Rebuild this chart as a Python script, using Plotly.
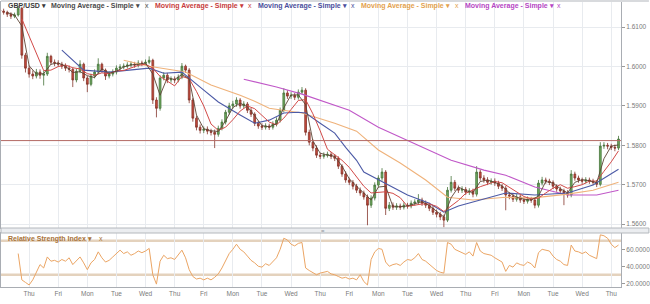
import plotly.graph_objects as go

# ---------------- data ----------------
day_labels = ["Wed", "Thu", "Fri", "Mon", "Tue", "Wed", "Thu", "Fri", "Mon", "Tue", "Wed",
              "Thu", "Fri", "Mon", "Tue", "Wed", "Thu", "Fri", "Mon", "Tue", "Wed", "Thu"]
bars_per_day = 8  # 3-hour candles

first_open = 1.6143
closes = [
    1.6141, 1.6138, 1.6133, 1.6128, 1.6131, 1.6148, 1.6029, 1.5996,
    1.5981, 1.5976, 1.5986, 1.5978, 1.5981, 1.6026, 1.6011, 1.6009,
    1.6006, 1.6001, 1.5996, 1.5993, 1.5966, 1.5988, 1.6006, 1.5971,
    1.5955, 1.5976, 1.5986, 1.6006, 1.5991, 1.5976, 1.5981, 1.5986,
    1.5996, 1.5999, 1.6001, 1.6004, 1.6006, 1.6004, 1.6009, 1.6008,
    1.6011, 1.6016, 1.5915, 1.5894, 1.5971, 1.5978, 1.5966, 1.5968,
    1.5966, 1.5973, 1.6001, 1.5991, 1.5915, 1.5869, 1.5846, 1.5838,
    1.5841, 1.5836, 1.5833, 1.5828, 1.5843, 1.5859, 1.5884, 1.5900,
    1.5905, 1.5915, 1.5900, 1.5905, 1.5889, 1.5879, 1.5856, 1.5849,
    1.5846, 1.5849, 1.5846, 1.5854, 1.5864, 1.5889, 1.5933, 1.5925,
    1.5927, 1.5922, 1.5935, 1.5940, 1.5833, 1.5808, 1.5793, 1.5775,
    1.5772, 1.5775, 1.5777, 1.5772, 1.5767, 1.5747, 1.5727, 1.5712,
    1.5706, 1.5696, 1.5686, 1.5679, 1.5669, 1.5648, 1.5666, 1.5699,
    1.5717, 1.5732, 1.5640, 1.5648, 1.5643, 1.5646, 1.5643, 1.5648,
    1.5646, 1.5653, 1.5656, 1.5661, 1.5653, 1.5648, 1.5640, 1.5630,
    1.5625, 1.5618, 1.5610, 1.5686, 1.5706, 1.5691, 1.5686, 1.5688,
    1.5681, 1.5684, 1.5676, 1.5732, 1.5717, 1.5712, 1.5706, 1.5709,
    1.5704, 1.5696, 1.5691, 1.5674, 1.5671, 1.5663, 1.5669, 1.5661,
    1.5658, 1.5663, 1.5661, 1.5648, 1.5704, 1.5712, 1.5709, 1.5706,
    1.5696, 1.5689, 1.5684, 1.5679, 1.5674, 1.5727, 1.5717, 1.5712,
    1.5709, 1.5712, 1.5709, 1.5706, 1.5701, 1.5798, 1.5800, 1.5798,
    1.5795, 1.5793, 1.5816,
]
highs = [
    1.6150, 1.6147, 1.6142, 1.6138, 1.6137, 1.6155, 1.6152, 1.6035,
    1.6003, 1.5990, 1.5994, 1.5993, 1.5990, 1.6035, 1.6030, 1.6018,
    1.6016, 1.6012, 1.6008, 1.6003, 1.5998, 1.5994, 1.6016, 1.6010,
    1.5976, 1.5982, 1.5993, 1.6021, 1.6010, 1.5995, 1.5988, 1.5993,
    1.6003, 1.6006, 1.6008, 1.6011, 1.6013, 1.6012, 1.6016, 1.6015,
    1.6018, 1.6026, 1.6020, 1.5922, 1.5978, 1.5986, 1.5984, 1.5975,
    1.5975, 1.5980, 1.6009, 1.6005, 1.5996, 1.5920, 1.5875, 1.5853,
    1.5848, 1.5848, 1.5842, 1.5840, 1.5850, 1.5866, 1.5890, 1.5908,
    1.5913, 1.5922, 1.5920, 1.5912, 1.5910, 1.5895, 1.5884, 1.5862,
    1.5856, 1.5856, 1.5855, 1.5861, 1.5871, 1.5896, 1.5945, 1.5940,
    1.5935, 1.5933, 1.5942, 1.5948, 1.5945, 1.5840, 1.5815, 1.5800,
    1.5781, 1.5782, 1.5784, 1.5783, 1.5778, 1.5772, 1.5752, 1.5734,
    1.5718, 1.5712, 1.5702, 1.5693, 1.5685, 1.5675, 1.5673, 1.5706,
    1.5724, 1.5742, 1.5737, 1.5656, 1.5655, 1.5653, 1.5652, 1.5655,
    1.5654, 1.5660, 1.5663, 1.5676, 1.5667, 1.5660, 1.5654, 1.5646,
    1.5637, 1.5631, 1.5624, 1.5694, 1.5722, 1.5712, 1.5698, 1.5696,
    1.5694, 1.5691, 1.5690, 1.5747, 1.5738, 1.5724, 1.5719, 1.5716,
    1.5716, 1.5710, 1.5702, 1.5697, 1.5681, 1.5677, 1.5676, 1.5675,
    1.5667, 1.5670, 1.5669, 1.5666, 1.5712, 1.5720, 1.5718, 1.5715,
    1.5711, 1.5701, 1.5695, 1.5690, 1.5686, 1.5737, 1.5733, 1.5723,
    1.5718, 1.5719, 1.5718, 1.5715, 1.5712, 1.5808, 1.5808, 1.5806,
    1.5804, 1.5802, 1.5824,
]
lows = [
    1.6135, 1.6132, 1.6126, 1.6121, 1.6123, 1.6127, 1.6020, 1.5985,
    1.5972, 1.5968, 1.5970, 1.5969, 1.5952, 1.5976, 1.6004, 1.6001,
    1.5999, 1.5994, 1.5989, 1.5985, 1.5948, 1.5960, 1.5983, 1.5963,
    1.5935, 1.5950, 1.5970, 1.5981, 1.5985, 1.5966, 1.5970, 1.5975,
    1.5980, 1.5990, 1.5993, 1.5995, 1.5998, 1.5997, 1.5998, 1.6001,
    1.6002, 1.6006, 1.5905, 1.5871, 1.5888, 1.5965, 1.5958, 1.5959,
    1.5958, 1.5960, 1.5968, 1.5984, 1.5907, 1.5860, 1.5838, 1.5830,
    1.5831, 1.5828, 1.5825, 1.5793, 1.5822, 1.5838, 1.5853, 1.5878,
    1.5893, 1.5898, 1.5893, 1.5894, 1.5882, 1.5872, 1.5849, 1.5842,
    1.5839, 1.5840, 1.5839, 1.5840, 1.5848, 1.5858, 1.5884, 1.5918,
    1.5918, 1.5915, 1.5916, 1.5930, 1.5825, 1.5800, 1.5785, 1.5768,
    1.5765, 1.5766, 1.5769, 1.5765, 1.5760, 1.5740, 1.5720, 1.5705,
    1.5699, 1.5688, 1.5679, 1.5672, 1.5662, 1.5597, 1.5641, 1.5660,
    1.5693, 1.5710, 1.5623, 1.5633, 1.5636, 1.5636, 1.5636, 1.5637,
    1.5639, 1.5640, 1.5647, 1.5650, 1.5646, 1.5641, 1.5633, 1.5623,
    1.5617, 1.5610, 1.5592, 1.5605, 1.5680, 1.5684, 1.5679, 1.5679,
    1.5674, 1.5674, 1.5668, 1.5670, 1.5710, 1.5705, 1.5699, 1.5700,
    1.5697, 1.5689, 1.5684, 1.5635, 1.5663, 1.5656, 1.5657, 1.5654,
    1.5651, 1.5652, 1.5654, 1.5640, 1.5642, 1.5698, 1.5702, 1.5699,
    1.5689, 1.5682, 1.5677, 1.5648, 1.5667, 1.5668, 1.5710, 1.5705,
    1.5702, 1.5703, 1.5702, 1.5699, 1.5694, 1.5696, 1.5791, 1.5790,
    1.5788, 1.5785, 1.5788,
]

# fast simple moving average (dark), read every 2nd candle from candle 2
ma_fast_start = 2
ma_fast = [
    1.6137, 1.6131, 1.6103, 1.6002, 1.5981, 1.5982, 1.6006, 1.6009, 1.6001, 1.5985,
    1.5987, 1.5977, 1.5972, 1.5994, 1.5983, 1.5988, 1.5999, 1.6004, 1.6006, 1.6009,
    1.5981, 1.5927, 1.5972, 1.5967, 1.5980, 1.5969, 1.5877, 1.5842, 1.5837, 1.5835,
    1.5862, 1.5896, 1.5907, 1.5898, 1.5875, 1.5850, 1.5847, 1.5855, 1.5895, 1.5928,
    1.5928, 1.5903, 1.5811, 1.5780, 1.5775, 1.5772, 1.5747, 1.5715, 1.5696, 1.5678,
    1.5661, 1.5694, 1.5696, 1.5644, 1.5644, 1.5646, 1.5652, 1.5657, 1.5647, 1.5632,
    1.5618, 1.5667, 1.5694, 1.5685, 1.5680, 1.5708, 1.5712, 1.5706, 1.5697, 1.5679,
    1.5668, 1.5663, 1.5661, 1.5671, 1.5708, 1.5704, 1.5690, 1.5679, 1.5706, 1.5713,
    1.5710, 1.5705, 1.5766, 1.5798, 1.5801,
]
# red simple moving average, read every 2nd candle from candle 6
ma_red_start = 6
ma_red = [
    1.6121, 1.6078, 1.6035, 1.5990, 1.5991, 1.6000, 1.6004, 1.5997, 1.5994, 1.5982,
    1.5978, 1.5984, 1.5982, 1.5989, 1.5990, 1.5996, 1.6003, 1.6006, 1.5996, 1.5975,
    1.5964, 1.5951, 1.5975, 1.5969, 1.5937, 1.5900, 1.5854, 1.5838, 1.5846, 1.5865,
    1.5887, 1.5900, 1.5893, 1.5875, 1.5859, 1.5852, 1.5869, 1.5891, 1.5914, 1.5916,
    1.5880, 1.5837, 1.5790, 1.5776, 1.5762, 1.5744, 1.5720, 1.5696, 1.5679, 1.5681,
    1.5682, 1.5678, 1.5667, 1.5645, 1.5648, 1.5651, 1.5651, 1.5645, 1.5632, 1.5645,
    1.5660, 1.5678, 1.5687, 1.5695, 1.5701, 1.5708, 1.5705, 1.5693, 1.5681, 1.5670,
    1.5664, 1.5666, 1.5679, 1.5691, 1.5700, 1.5691, 1.5695, 1.5700, 1.5709, 1.5709,
    1.5734, 1.5758, 1.5786,
]
# slower moving averages, read at candle indices
blue_bars = [17, 23, 30, 41, 45, 50, 55, 60, 66, 70, 74, 78, 82, 84, 88, 92, 95, 98, 100,
             104, 112, 118, 122, 126, 132, 139, 147, 156, 163, 170]
blue_vals = [1.6042, 1.5991, 1.5986, 1.5996, 1.5983, 1.5986, 1.5948, 1.5910, 1.5877, 1.5856,
             1.5864, 1.5882, 1.5884, 1.5882, 1.5856, 1.5831, 1.5795, 1.5762, 1.5732, 1.5712,
             1.5674, 1.5653, 1.5630, 1.5646, 1.5661, 1.5679, 1.5674, 1.5679, 1.5699, 1.5739]
orange_bars = [34, 41, 51, 58, 66, 70, 74, 78, 83, 92, 98, 104, 110, 117, 123, 130, 139,
               146, 156, 163, 170]
orange_vals = [1.6016, 1.6001, 1.5986, 1.5953, 1.5927, 1.5912, 1.5894, 1.5889, 1.5882, 1.5856,
               1.5836, 1.5788, 1.5755, 1.5712, 1.5668, 1.5661, 1.5668, 1.5666, 1.5676, 1.5686,
               1.5706]
magenta_bars = [67, 76, 83, 96, 104, 114, 124, 133, 139, 147, 156, 164, 170]
magenta_vals = [1.5968, 1.5948, 1.5930, 1.5889, 1.5846, 1.5805, 1.5762, 1.5737, 1.5724,
                1.5694, 1.5674, 1.5674, 1.5686]

last_price = 1.5812

# RSI, one reading per candle from candle 5
rsi_start = 5
rsi = [
    55, 24, 21, 18, 24, 33, 42, 38, 51, 46, 47, 45, 48, 46, 50, 42, 47, 51, 44, 36,
    44, 48, 57, 50, 45, 47, 51, 55, 59, 55, 57, 53, 55, 58, 56, 58, 61, 30, 19, 46,
    53, 49, 50, 48, 53, 59, 50, 36, 28, 25, 26, 24, 26, 24, 27, 31, 38, 47, 55, 60,
    66, 60, 57, 52, 47, 44, 40, 39, 43, 41, 45, 50, 60, 73, 71, 66, 64, 67, 68, 38,
    35, 32, 30, 32, 33, 34, 31, 30, 28, 26, 27, 25, 26, 24, 30, 22, 18, 48, 57, 61,
    60, 45, 40, 42, 43, 41, 45, 48, 47, 50, 55, 48, 46, 42, 38, 35, 33, 32, 68, 66,
    60, 58, 56, 54, 57, 52, 68, 58, 55, 54, 53, 50, 47, 45, 34, 41, 39, 44, 42, 41,
    45, 43, 38, 56, 60, 59, 58, 52, 48, 46, 42, 41, 65, 58, 57, 55, 57, 53, 51, 49,
    77, 76, 73, 66, 62, 65,
]
rsi_levels = [70, 30]
price_ticks = [1.56, 1.57, 1.58, 1.59, 1.60, 1.61]
rsi_ticks = [20, 40, 60]

headers = [
    ("GBP/USD \u25BE", "#3a3a3a"),
    ("Moving Average - Simple \u25BE", "#4a4a4a"),
    ("Moving Average - Simple \u25BE", "#c83c3c"),
    ("Moving Average - Simple \u25BE", "#4a4e9c"),
    ("Moving Average - Simple \u25BE", "#e3a24e"),
    ("Moving Average - Simple \u25BE", "#b646c4"),
]

# ---------------- figure ----------------
W, H = 650, 304
ML, MR, MT, MB = 0, 28, 2, 17
PW, PH = W - ML - MR, H - MT - MB


def px_x(p):
    return (p - ML) / PW


def px_y(p):
    return 1 - (p - MT) / PH


def to_day(bars):
    return [b / bars_per_day for b in bars]


n = len(closes)
bar_idx = list(range(n))
opens = [first_open] + closes[:-1]

fig = go.Figure()

fig.add_trace(go.Candlestick(
    x=to_day(bar_idx), open=opens, high=highs, low=lows, close=closes,
    increasing=dict(line=dict(color="#46733b", width=0.8), fillcolor="#6eab5e"),
    decreasing=dict(line=dict(color="#84352b", width=0.8), fillcolor="#c94a3c"),
    whiskerwidth=0, showlegend=False, hoverinfo="skip", xaxis="x", yaxis="y"))

fig.add_trace(go.Scatter(
    x=to_day(magenta_bars), y=magenta_vals, mode="lines",
    line=dict(color="#c058c8", width=1.1), showlegend=False, hoverinfo="skip"))
fig.add_trace(go.Scatter(
    x=to_day(orange_bars), y=orange_vals, mode="lines",
    line=dict(color="#efb27a", width=1.1), showlegend=False, hoverinfo="skip"))
fig.add_trace(go.Scatter(
    x=to_day(blue_bars), y=blue_vals, mode="lines",
    line=dict(color="#4c5aa6", width=1.1), showlegend=False, hoverinfo="skip"))
fig.add_trace(go.Scatter(
    x=to_day(range(ma_red_start, ma_red_start + 2 * len(ma_red), 2)), y=ma_red,
    mode="lines", line=dict(color="#d24a48", width=1), showlegend=False, hoverinfo="skip"))
fig.add_trace(go.Scatter(
    x=to_day(range(ma_fast_start, ma_fast_start + 2 * len(ma_fast), 2)), y=ma_fast,
    mode="lines", line=dict(color="#5c4434", width=0.9), showlegend=False, hoverinfo="skip"))

fig.add_trace(go.Scatter(
    x=to_day(range(rsi_start, rsi_start + len(rsi))), y=rsi, mode="lines",
    line=dict(color="#eba564", width=1), showlegend=False, hoverinfo="skip",
    xaxis="x2", yaxis="y2"))

day_px = 29.2
xr = [(0 + 1) / day_px, (PW + 1) / day_px]

tick_font = dict(family="Liberation Sans, Arial, sans-serif", size=6.5, color="#7a7a7a")
grid = "#e8ebef"

common_x = dict(range=xr, tickvals=list(range(len(day_labels))), showgrid=True,
                gridcolor=grid, gridwidth=1, zeroline=False, showline=True,
                linecolor="#a9adb3", mirror=True, ticks="", fixedrange=True)

fig.update_layout(
    width=W, height=H, margin=dict(l=ML, r=MR, t=MT, b=MB),
    paper_bgcolor="#ffffff", plot_bgcolor="#ffffff",
    font=tick_font, hovermode=False,
    xaxis=dict(domain=[0, 1], anchor="y", showticklabels=False,
               rangeslider=dict(visible=False), **common_x),
    xaxis2=dict(domain=[0, 1], anchor="y2", showticklabels=True,
                ticktext=day_labels, tickfont=tick_font, ticklabelstandoff=0, **common_x),
    yaxis=dict(domain=[px_y(228), 1], anchor="x", side="right",
               range=[1.5590, 1.6164], tickvals=price_ticks, tickformat=".4f",
               ticks="outside", ticklen=3, tickcolor="#9a9a9a", tickfont=tick_font,
               showgrid=True, gridcolor=grid, zeroline=False, showline=True,
               linecolor="#a9adb3", mirror=True, fixedrange=True),
    yaxis2=dict(domain=[0, px_y(233)], anchor="x2", side="right",
                range=[15.6, 79.2], tickvals=rsi_ticks, tickformat=".4f",
                ticks="outside", ticklen=3, tickcolor="#9a9a9a", tickfont=tick_font,
                showgrid=False, zeroline=False, showline=True,
                linecolor="#a9adb3", mirror=True, fixedrange=True),
)

shapes = []
# current price line
shapes.append(dict(type="line", xref="paper", yref="y", x0=0, x1=1,
                   y0=last_price, y1=last_price, line=dict(color="#b46a64", width=1)))
# RSI overbought / oversold bands
for lv in rsi_levels:
    shapes.append(dict(type="line", xref="paper", yref="y2", x0=0, x1=1,
                       y0=lv, y1=lv, line=dict(color="#e4d2bd", width=2.5), layer="below"))
# panel splitter
shapes.append(dict(type="rect", xref="paper", yref="paper", x0=0, x1=px_x(W),
                   y0=px_y(233), y1=px_y(228), fillcolor="#ebedf0",
                   line=dict(color="#b4b8bd", width=1)))
# top strip
shapes.append(dict(type="rect", xref="paper", yref="paper", x0=0, x1=px_x(W),
                   y0=px_y(2), y1=px_y(0), fillcolor="#d8dadd", line=dict(width=0)))
fig.update_layout(shapes=shapes)

annotations = []
hdr_font = dict(family="Liberation Sans, Arial, sans-serif", size=7)
hdr_x = [5, 48, 152, 256, 359, 463]
x_marks = [None, 142, 246, 349, 453, 556]
for (txt, col), hx, xm in zip(headers, hdr_x, x_marks):
    annotations.append(dict(text="<b>%s</b>" % txt, x=px_x(hx), y=px_y(5.5), xref="paper",
                            yref="paper", xanchor="left", yanchor="middle", showarrow=False,
                            font=dict(color=col, **hdr_font)))
    if xm is not None:
        annotations.append(dict(text="x", x=px_x(xm), y=px_y(5.5), xref="paper",
                                yref="paper", xanchor="left", yanchor="middle",
                                showarrow=False, font=dict(color=col, **hdr_font)))
annotations.append(dict(text="<b>Relative Strength Index \u25BE</b>", x=px_x(5), y=px_y(238.5),
                        xref="paper", yref="paper", xanchor="left", yanchor="middle",
                        showarrow=False, font=dict(color="#a8733a", **hdr_font)))
annotations.append(dict(text="x", x=px_x(96), y=px_y(238.5), xref="paper", yref="paper",
                        xanchor="left", yanchor="middle", showarrow=False,
                        font=dict(color="#a8733a", **hdr_font)))
# first (partly hidden) day label
annotations.append(dict(text=day_labels[0], x=0, y=px_y(292), xref="x2", yref="paper",
                        xanchor="center", yanchor="middle", showarrow=False, font=tick_font))
# splitter grip
annotations.append(dict(text="=", x=px_x(323), y=px_y(230.5), xref="paper", yref="paper",
                        xanchor="center", yanchor="middle", showarrow=False,
                        font=dict(family="Liberation Sans", size=6, color="#8a8e94")))
fig.update_layout(annotations=annotations)

fig.write_html("out.html")
